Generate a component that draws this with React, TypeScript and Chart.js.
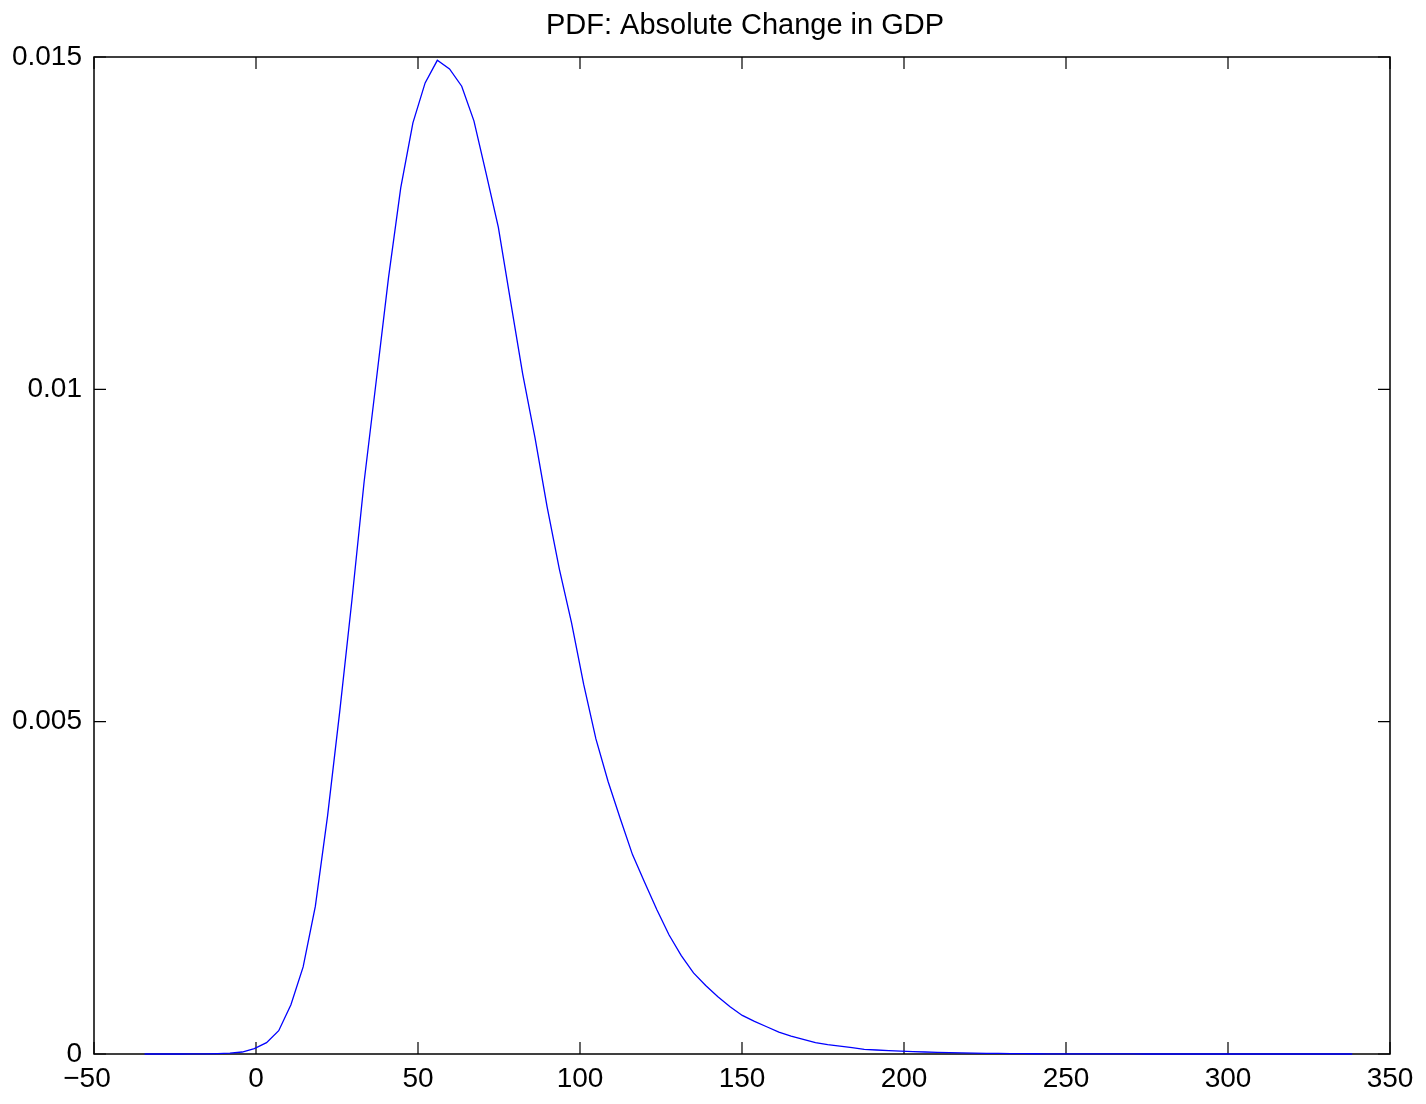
import React, { useEffect, useRef } from "react";
import { Chart, registerables } from "chart.js";

Chart.register(...registerables);

const titleText = "PDF: Absolute Change in GDP";

const xValues = [
  -34.4, -30.64, -26.87, -23.11, -19.34, -15.58, -11.81, -8.05, -4.28, -0.52,
  3.25, 7.01, 10.78, 14.55, 18.31, 22.08, 25.84, 29.61, 33.37, 37.14,
  40.9, 44.67, 48.43, 52.2, 55.96, 59.73, 63.49, 67.26, 71.02, 74.79,
  78.55, 82.32, 86.08, 89.85, 93.61, 97.38, 101.14, 104.91, 108.67, 112.44,
  116.2, 119.97, 123.73, 127.5, 131.26, 135.03, 138.79, 142.56, 146.32, 150.09,
  153.85, 157.62, 161.38, 165.15, 168.91, 172.68, 176.44, 180.21, 183.97, 187.74,
  191.5, 195.27, 199.03, 202.8, 206.56, 210.33, 214.09, 217.86, 221.62, 225.39,
  229.15, 232.92, 236.68, 240.45, 244.21, 247.98, 251.74, 255.51, 259.27, 263.04,
  266.8, 270.57, 274.33, 278.1, 281.86, 285.63, 289.39, 293.16, 296.92, 300.69,
  304.45, 308.22, 311.98, 315.75, 319.51, 323.28, 327.04, 330.81, 334.57, 338.34,
];

const pdfValues = [
  0, 0, 0, 0, 0.000001, 0.000002, 0.000005, 0.000012, 0.00003, 0.00008,
  0.00017, 0.00035, 0.00074, 0.00131, 0.00222, 0.00358, 0.00515, 0.00683, 0.00861, 0.01014,
  0.01168, 0.01303, 0.01401, 0.01461, 0.01495, 0.01482, 0.01456, 0.01404, 0.01325, 0.01244,
  0.01133, 0.01023, 0.00928, 0.00823, 0.0073, 0.00649, 0.00556, 0.00474, 0.0041, 0.00354,
  0.003, 0.00258, 0.00217, 0.00179, 0.00148, 0.00122, 0.00103, 0.00086, 0.00071, 0.00058,
  0.00049, 0.00041, 0.00033, 0.00027, 0.00022, 0.00017, 0.00014, 0.00012, 0.000095, 0.00007,
  0.00006, 0.00005, 0.000042, 0.000035, 0.00003, 0.000025, 0.00002, 0.000016, 0.000013, 0.00001,
  0.000008, 0.000006, 0.000005, 0.000004, 0.000003, 0.000003, 0.000002, 0.000002, 0.000001, 0.000001,
  0.000001, 0.000001, 0, 0, 0, 0, 0, 0, 0, 0,
  0, 0, 0, 0, 0, 0, 0, 0, 0, 0,
];

const xTickValues = [-50, 0, 50, 100, 150, 200, 250, 300, 350];
const xTickLabels = ["\u221250\u2002", "0", "50", "100", "150", "200", "250", "300", "350"];
const yTickValues = [0, 0.005, 0.01, 0.015];
const yTickLabels = ["0", "0.005", "0.01", "0.015"];

const FONT = "'Liberation Sans', Arial, Helvetica, sans-serif";
const FONT_SIZE = 28;
const TITLE_SIZE = 29;

const framePlugin = {
  id: "matlabFrame",
  beforeDatasetsDraw(chart: any) {
    const { ctx, chartArea, scales } = chart;
    const { left, right, top, bottom } = chartArea;
    ctx.save();
    ctx.strokeStyle = "#000";
    ctx.lineWidth = 1.5;
    ctx.strokeRect(left, top, right - left, bottom - top);
    const tl = 12;
    ctx.lineWidth = 1.2;
    ctx.beginPath();
    xTickValues.forEach((v) => {
      const px = scales.x.getPixelForValue(v);
      ctx.moveTo(px, bottom);
      ctx.lineTo(px, bottom - tl);
      ctx.moveTo(px, top);
      ctx.lineTo(px, top + tl);
    });
    yTickValues.forEach((v) => {
      const py = scales.y.getPixelForValue(v);
      ctx.moveTo(left, py);
      ctx.lineTo(left + tl, py);
      ctx.moveTo(right, py);
      ctx.lineTo(right - tl, py);
    });
    ctx.stroke();
    // title
    ctx.fillStyle = "#000";
    ctx.font = `${TITLE_SIZE}px ${FONT}`;
    ctx.textAlign = "center";
    ctx.textBaseline = "middle";
    ctx.fillText(titleText, (left + right) / 2 + 3, 26);
    ctx.restore();
  },
};

export default function App() {
  const canvasRef = useRef<HTMLCanvasElement | null>(null);

  useEffect(() => {
    const canvas = canvasRef.current;
    if (!canvas) return;
    const points = xValues.map((x, i) => ({ x, y: pdfValues[i] }));
    const chart = new Chart(canvas, {
      type: "line",
      data: {
        datasets: [
          {
            data: points,
            borderColor: "#0000ff",
            borderWidth: 1.3,
            pointRadius: 0,
            tension: 0,
            fill: false,
            clip: false as any,
          },
        ],
      },
      options: {
        responsive: false,
        animation: false,
        devicePixelRatio: 1,
        layout: { padding: { top: 57, right: 36, left: 0, bottom: 0 } },
        plugins: {
          legend: { display: false },
          tooltip: { enabled: false },
          title: { display: false },
        },
        scales: {
          x: {
            type: "linear",
            min: -50,
            max: 350,
            grid: { display: false, drawTicks: false },
            border: { display: false },
            afterBuildTicks: (scale: any) => {
              scale.ticks = xTickValues.map((v) => ({ value: v }));
            },
            afterFit: (scale: any) => {
              scale.height = 50;
            },
            ticks: {
              autoSkip: false,
              maxRotation: 0,
              padding: 8,
              color: "#000",
              font: { family: FONT, size: FONT_SIZE },
              callback: (value: any) => {
                const i = xTickValues.indexOf(Number(value));
                return i >= 0 ? xTickLabels[i] : "";
              },
            },
          },
          y: {
            type: "linear",
            min: 0,
            max: 0.015,
            grid: { display: false, drawTicks: false },
            border: { display: false },
            afterBuildTicks: (scale: any) => {
              scale.ticks = yTickValues.map((v) => ({ value: v }));
            },
            afterFit: (scale: any) => {
              scale.width = 94;
            },
            ticks: {
              autoSkip: false,
              padding: 12,
              color: "#000",
              font: { family: FONT, size: FONT_SIZE },
              callback: (value: any) => {
                const i = yTickValues.findIndex((v) => Math.abs(v - Number(value)) < 1e-9);
                return i >= 0 ? yTickLabels[i] : "";
              },
            },
          },
        },
      },
      plugins: [framePlugin],
    });
    return () => chart.destroy();
  }, []);

  return (
    <canvas
      ref={canvasRef}
      width={1426}
      height={1104}
      style={{ position: "absolute", left: 0, top: 0, display: "block", background: "#fff" }}
    />
  );
}
